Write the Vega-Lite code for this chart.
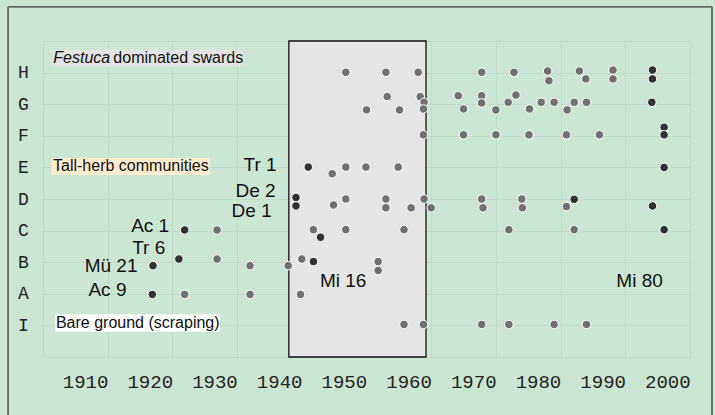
{
  "$schema": "https://vega.github.io/schema/vega-lite/v6.json",
  "width": 647,
  "height": 316,
  "autosize": {"type": "none"},
  "padding": {"left": 43, "top": 41, "right": 25, "bottom": 58},
  "background": "#cbe5d3",
  "config": {
    "view": {"stroke": "#c1dbc8", "fill": "#cce6d4"},
    "axis": {"title": null}
  },
  "resolve": {"axis": {"x": "independent", "y": "independent"}},
  "datasets": {
    "frame": [
      {"x1": 1898.1, "y1": 11.08, "x2": 2006.9, "y2": 11.08},
      {"x1": 1898.1, "y1": 11.08, "x2": 1898.1, "y2": -2.5},
      {"x1": 2006.9, "y1": 11.08, "x2": 2006.9, "y2": -2.5}
    ],
    "mi": [{"x1": 1941.5, "x2": 1962.7, "y1": 0, "y2": 10}],
    "boxes": [
      {"box": "festuca", "x1": 1904.74, "x2": 1934.4, "y1": 9.19, "y2": 9.72},
      {"box": "tallherb", "x1": 1904.8, "x2": 1929.3, "y1": 5.76, "y2": 6.30},
      {"box": "bare", "x1": 1905.4, "x2": 1930.86, "y1": 0.80, "y2": 1.35}
    ],
    "pts": [
      {"year": 1950.3, "v": 9.01, "kind": "gray"},
      {"year": 1956.5, "v": 9.01, "kind": "gray"},
      {"year": 1961.5, "v": 9.01, "kind": "gray"},
      {"year": 1971.3, "v": 9.01, "kind": "gray"},
      {"year": 1976.3, "v": 9.01, "kind": "gray"},
      {"year": 1981.5, "v": 9.05, "kind": "gray"},
      {"year": 1981.7, "v": 8.74, "kind": "gray"},
      {"year": 1986.4, "v": 9.05, "kind": "gray"},
      {"year": 1987.4, "v": 8.80, "kind": "gray"},
      {"year": 1991.6, "v": 9.08, "kind": "gray"},
      {"year": 1991.6, "v": 8.80, "kind": "gray"},
      {"year": 1997.7, "v": 9.08, "kind": "dark"},
      {"year": 1997.7, "v": 8.80, "kind": "dark"},
      {"year": 1953.5, "v": 7.82, "kind": "gray"},
      {"year": 1956.7, "v": 8.24, "kind": "gray"},
      {"year": 1958.6, "v": 7.82, "kind": "gray"},
      {"year": 1961.8, "v": 8.24, "kind": "gray"},
      {"year": 1962.4, "v": 8.06, "kind": "gray"},
      {"year": 1962.3, "v": 7.85, "kind": "gray"},
      {"year": 1967.7, "v": 8.27, "kind": "gray"},
      {"year": 1968.5, "v": 7.85, "kind": "gray"},
      {"year": 1971.3, "v": 8.27, "kind": "gray"},
      {"year": 1971.3, "v": 8.04, "kind": "gray"},
      {"year": 1973.5, "v": 7.82, "kind": "gray"},
      {"year": 1975.4, "v": 8.06, "kind": "gray"},
      {"year": 1976.6, "v": 8.29, "kind": "gray"},
      {"year": 1978.7, "v": 7.85, "kind": "gray"},
      {"year": 1980.5, "v": 8.06, "kind": "gray"},
      {"year": 1982.5, "v": 8.06, "kind": "gray"},
      {"year": 1984.5, "v": 7.82, "kind": "gray"},
      {"year": 1985.6, "v": 8.06, "kind": "gray"},
      {"year": 1987.5, "v": 8.06, "kind": "gray"},
      {"year": 1997.6, "v": 8.06, "kind": "dark"},
      {"year": 1962.3, "v": 7.03, "kind": "gray"},
      {"year": 1968.5, "v": 7.03, "kind": "gray"},
      {"year": 1973.5, "v": 7.03, "kind": "gray"},
      {"year": 1978.6, "v": 7.03, "kind": "gray"},
      {"year": 1984.4, "v": 7.03, "kind": "gray"},
      {"year": 1989.5, "v": 7.03, "kind": "gray"},
      {"year": 1999.5, "v": 7.27, "kind": "dark"},
      {"year": 1999.5, "v": 7.03, "kind": "dark"},
      {"year": 1944.5, "v": 6.01, "kind": "dark"},
      {"year": 1948.2, "v": 5.80, "kind": "gray"},
      {"year": 1950.3, "v": 6.01, "kind": "gray"},
      {"year": 1953.4, "v": 6.01, "kind": "gray"},
      {"year": 1958.4, "v": 6.01, "kind": "gray"},
      {"year": 1999.5, "v": 6.00, "kind": "dark"},
      {"year": 1942.6, "v": 5.05, "kind": "dark"},
      {"year": 1942.6, "v": 4.78, "kind": "dark"},
      {"year": 1948.4, "v": 4.81, "kind": "gray"},
      {"year": 1950.3, "v": 5.00, "kind": "gray"},
      {"year": 1956.5, "v": 5.00, "kind": "gray"},
      {"year": 1956.5, "v": 4.72, "kind": "gray"},
      {"year": 1960.4, "v": 4.72, "kind": "gray"},
      {"year": 1962.4, "v": 5.00, "kind": "gray"},
      {"year": 1963.5, "v": 4.72, "kind": "gray"},
      {"year": 1971.3, "v": 5.00, "kind": "gray"},
      {"year": 1971.5, "v": 4.72, "kind": "gray"},
      {"year": 1977.5, "v": 5.00, "kind": "gray"},
      {"year": 1977.6, "v": 4.72, "kind": "gray"},
      {"year": 1984.4, "v": 4.76, "kind": "gray"},
      {"year": 1985.6, "v": 4.99, "kind": "dark"},
      {"year": 1997.7, "v": 4.78, "kind": "dark"},
      {"year": 1925.4, "v": 4.02, "kind": "dark"},
      {"year": 1930.4, "v": 4.02, "kind": "gray"},
      {"year": 1945.3, "v": 4.03, "kind": "gray"},
      {"year": 1946.4, "v": 3.79, "kind": "dark"},
      {"year": 1950.3, "v": 4.03, "kind": "gray"},
      {"year": 1959.3, "v": 4.03, "kind": "gray"},
      {"year": 1975.5, "v": 4.03, "kind": "gray"},
      {"year": 1985.6, "v": 4.03, "kind": "gray"},
      {"year": 1999.5, "v": 4.03, "kind": "dark"},
      {"year": 1920.5, "v": 2.89, "kind": "dark"},
      {"year": 1924.5, "v": 3.10, "kind": "dark"},
      {"year": 1930.4, "v": 3.10, "kind": "gray"},
      {"year": 1935.5, "v": 2.89, "kind": "gray"},
      {"year": 1941.4, "v": 2.89, "kind": "gray"},
      {"year": 1943.5, "v": 3.10, "kind": "gray"},
      {"year": 1945.3, "v": 3.02, "kind": "dark"},
      {"year": 1955.3, "v": 3.02, "kind": "gray"},
      {"year": 1955.3, "v": 2.74, "kind": "gray"},
      {"year": 1920.4, "v": 1.98, "kind": "dark"},
      {"year": 1925.4, "v": 1.98, "kind": "gray"},
      {"year": 1935.5, "v": 1.98, "kind": "gray"},
      {"year": 1943.3, "v": 1.98, "kind": "gray"},
      {"year": 1959.3, "v": 1.03, "kind": "gray"},
      {"year": 1962.3, "v": 1.03, "kind": "gray"},
      {"year": 1971.3, "v": 1.03, "kind": "gray"},
      {"year": 1975.5, "v": 1.03, "kind": "gray"},
      {"year": 1982.5, "v": 1.03, "kind": "gray"},
      {"year": 1987.5, "v": 1.03, "kind": "gray"}
    ],
    "boxitalic": [{"t": "Festuca", "year": 1905.09, "v": 9.46}],
    "boxtext": [
      {"t": "dominated swards", "year": 1914.37, "v": 9.46},
      {"t": "Tall-herb communities", "year": 1905.05, "v": 6.03},
      {"t": "Bare ground (scraping)", "year": 1905.5, "v": 1.08}
    ],
    "plr": [
      {"t": "Tr 1", "year": 1939.6, "v": 6.08},
      {"t": "De 2", "year": 1939.46, "v": 5.26},
      {"t": "De 1", "year": 1938.85, "v": 4.63},
      {"t": "Ac 1", "year": 1923.0, "v": 4.15},
      {"t": "Tr 6", "year": 1922.4, "v": 3.44},
      {"t": "Mü 21", "year": 1918.1, "v": 2.88},
      {"t": "Ac 9", "year": 1916.4, "v": 2.12}
    ],
    "plc": [
      {"t": "Mi 16", "year": 1949.9, "v": 2.41},
      {"t": "Mi 80", "year": 1995.7, "v": 2.41}
    ]
  },
  "layer": [
    {
      "data": {"name": "mi"},
      "mark": {"type": "rect", "fill": "#e5e5e5", "stroke": "#111111", "strokeWidth": 1.3},
      "encoding": {
        "x": {"field": "x1", "type": "quantitative", "scale": {"domain": [1903.5, 2003.5], "nice": false, "zero": false},
          "axis": {"orient": "bottom", "values": [1903.5, 1913.5, 1923.5, 1933.5, 1943.5, 1953.5, 1963.5, 1973.5, 1983.5, 1993.5, 2003.5],
            "grid": true, "gridColor": "#c1dbc8", "labels": false, "ticks": false, "domain": false, "title": null}},
        "x2": {"field": "x2"},
        "y": {"field": "y1", "type": "quantitative", "scale": {"domain": [0, 10], "nice": false, "zero": false},
          "axis": {"orient": "left", "values": [0, 1, 2, 3, 4, 5, 6, 7, 8, 9, 10],
            "labelExpr": "datum.value == 1 ? 'I' : datum.value == 2 ? 'A' : datum.value == 3 ? 'B' : datum.value == 4 ? 'C' : datum.value == 5 ? 'D' : datum.value == 6 ? 'E' : datum.value == 7 ? 'F' : datum.value == 8 ? 'G' : datum.value == 9 ? 'H' : ''",
            "grid": true, "gridColor": "#c1dbc8", "ticks": false, "domain": false,
            "labelFont": "Liberation Mono", "labelFontSize": 18, "labelColor": "#222222",
            "labelAlign": "center", "labelBaseline": "middle", "labelPadding": 20, "labelOverlap": false, "labelFlush": false, "title": null}},
        "y2": {"field": "y2"}
      }
    },
    {
      "data": {"name": "frame"},
      "mark": {"type": "rule", "color": "#5c6a60", "strokeWidth": 1.8},
      "encoding": {
        "x": {"field": "x1", "type": "quantitative", "axis": null},
        "x2": {"field": "x2"},
        "y": {"field": "y1", "type": "quantitative", "axis": null},
        "y2": {"field": "y2"}
      }
    },
    {
      "data": {"name": "boxes"},
      "mark": {"type": "rect"},
      "encoding": {
        "x": {"field": "x1", "type": "quantitative", "axis": null},
        "x2": {"field": "x2"},
        "y": {"field": "y1", "type": "quantitative", "axis": null},
        "y2": {"field": "y2"},
        "fill": {"field": "box", "type": "nominal", "legend": null,
          "scale": {"domain": ["festuca", "tallherb", "bare"], "range": ["#e3e3e3", "#fdebce", "#ffffff"]}}
      }
    },
    {
      "data": {"name": "pts"},
      "mark": {"type": "circle", "size": 72, "stroke": "#ffffff", "strokeWidth": 1, "opacity": 1},
      "encoding": {
        "x": {"field": "year", "type": "quantitative",
          "axis": {"orient": "bottom", "values": [1910, 1920, 1930, 1940, 1950, 1960, 1970, 1980, 1990, 2000], "format": "d",
            "grid": false, "ticks": false, "domain": false, "labelFont": "Liberation Mono", "labelFontSize": 19,
            "labelColor": "#222222", "labelBaseline": "middle", "labelPadding": 24, "labelFlush": false, "title": null}},
        "y": {"field": "v", "type": "quantitative", "axis": null},
        "color": {"field": "kind", "type": "nominal", "legend": null,
          "scale": {"domain": ["dark", "gray"], "range": ["#313131", "#707070"]}}
      }
    },
    {
      "data": {"name": "boxitalic"},
      "mark": {"type": "text", "align": "left", "baseline": "middle", "font": "Liberation Sans", "fontSize": 16, "fontStyle": "italic", "color": "#111111"},
      "encoding": {
        "x": {"field": "year", "type": "quantitative", "axis": null},
        "y": {"field": "v", "type": "quantitative", "axis": null},
        "text": {"field": "t"}
      }
    },
    {
      "data": {"name": "boxtext"},
      "mark": {"type": "text", "align": "left", "baseline": "middle", "font": "Liberation Sans", "fontSize": 16, "color": "#111111"},
      "encoding": {
        "x": {"field": "year", "type": "quantitative", "axis": null},
        "y": {"field": "v", "type": "quantitative", "axis": null},
        "text": {"field": "t"}
      }
    },
    {
      "data": {"name": "plr"},
      "mark": {"type": "text", "align": "right", "baseline": "middle", "font": "Liberation Sans", "fontSize": 19, "color": "#111111"},
      "encoding": {
        "x": {"field": "year", "type": "quantitative", "axis": null},
        "y": {"field": "v", "type": "quantitative", "axis": null},
        "text": {"field": "t"}
      }
    },
    {
      "data": {"name": "plc"},
      "mark": {"type": "text", "align": "center", "baseline": "middle", "font": "Liberation Sans", "fontSize": 19, "color": "#111111"},
      "encoding": {
        "x": {"field": "year", "type": "quantitative", "axis": null},
        "y": {"field": "v", "type": "quantitative", "axis": null},
        "text": {"field": "t"}
      }
    }
  ]
}
